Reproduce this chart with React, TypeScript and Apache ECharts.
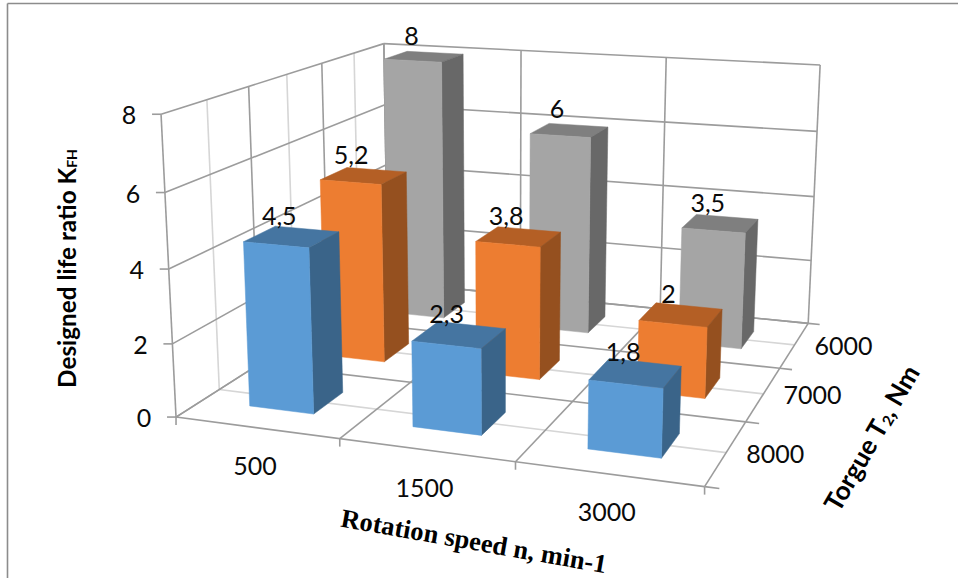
import React, { useEffect, useRef } from "react";
import * as echarts from "echarts";

// Chart data: designed life ratio by rotation speed (columns) and torque (rows).
const rotationSpeeds = ["500", "1500", "3000"];
const torques = ["8000", "7000", "6000"];
const valueTicks = [0, 2, 4, 6, 8];
const life8000 = [4.5, 2.3, 1.8];
const life7000 = [5.2, 3.8, 2];
const life6000 = [8, 6, 3.5];
const valueMax = 8;

type Vec3 = [number, number, number];
type Pt = [number, number];

// Known points of the unit box (u along speed, v into depth, w up) on the canvas.
const CALIBRATION: [Vec3, Pt][] = [
  [[0, 0, 0], [175.7, 416]],
  [[1, 0, 0], [705, 487]],
  [[1, 1, 0], [808, 323]],
  [[0, 1, 0], [388, 283]],
  [[0, 0, 1], [161, 115]],
  [[0, 1, 1], [384, 43]],
  [[1, 1, 1], [820, 65]],
];

function solveLinear(A: number[][], b: number[]): number[] {
  const n = b.length;
  const M = A.map((row, i) => [...row, b[i]]);
  for (let c = 0; c < n; c++) {
    let p = c;
    for (let r = c + 1; r < n; r++) if (Math.abs(M[r][c]) > Math.abs(M[p][c])) p = r;
    [M[c], M[p]] = [M[p], M[c]];
    for (let r = 0; r < n; r++) {
      if (r === c) continue;
      const f = M[r][c] / M[c][c];
      for (let k = c; k <= n; k++) M[r][k] -= f * M[c][k];
    }
  }
  return M.map((row, i) => row[n] / row[i]);
}

// Least-squares fit of a projective camera to the calibration points.
function fitCamera(): number[] {
  const rows: number[][] = [];
  const rhs: number[] = [];
  for (const [[u, v, w], [px, py]] of CALIBRATION) {
    const x = px / 1000;
    const y = py / 1000;
    rows.push([u, v, w, 1, 0, 0, 0, 0, -x * u, -x * v, -x * w]);
    rhs.push(x);
    rows.push([0, 0, 0, 0, u, v, w, 1, -y * u, -y * v, -y * w]);
    rhs.push(y);
  }
  const n = 11;
  const AtA = Array.from({ length: n }, (_, i) =>
    Array.from({ length: n }, (_, j) => rows.reduce((s, r) => s + r[i] * r[j], 0))
  );
  const Atb = Array.from({ length: n }, (_, i) =>
    rows.reduce((s, r, k) => s + r[i] * rhs[k], 0)
  );
  return solveLinear(AtA, Atb);
}

const cam = fitCamera();
const project = (u: number, v: number, w: number): Pt => {
  const d = cam[8] * u + cam[9] * v + cam[10] * w + 1;
  return [
    (1000 * (cam[0] * u + cam[1] * v + cam[2] * w + cam[3])) / d,
    (1000 * (cam[4] * u + cam[5] * v + cam[6] * w + cam[7])) / d,
  ];
};

const GRID_DARK = "#9c9c9c";
const GRID_LIGHT = "#d6d6d6";
const LABEL_FONT = "Lato";
const BAR_FRACTION_U = 0.4;
const BAR_FRACTION_V = 0.39;

const seg = (a: Pt, b: Pt, stroke: string, lineWidth = 1.6) => ({
  type: "line",
  shape: { x1: a[0], y1: a[1], x2: b[0], y2: b[1] },
  style: { stroke, lineWidth, fill: "none" },
});

const label = (text: string, p: Pt, fontSize = 25) => ({
  type: "text",
  x: p[0],
  y: p[1],
  style: {
    text,
    fontFamily: LABEL_FONT,
    fontSize,
    fill: "#0a0a0a",
    align: "center",
    verticalAlign: "middle",
  },
});

const shift = (p: Pt, dx: number, dy: number): Pt => [p[0] + dx, p[1] + dy];

// Walls, floor, ticks and axis labels of the box.
function renderFrame() {
  const children: any[] = [];
  const nU = rotationSpeeds.length;
  const nV = torques.length;

  // Half-cell lines sit underneath the lines on cell boundaries.
  for (let i = 0; i < nV; i++) {
    const v = (i + 0.5) / nV;
    children.push(seg(project(0, v, 0), project(0, v, 1), GRID_LIGHT));
    children.push(seg(project(0, v, 0), project(1, v, 0), GRID_LIGHT));
  }
  for (let i = 0; i <= nV; i++) {
    const v = i / nV;
    children.push(seg(project(0, v, 0), project(0, v, 1), GRID_DARK));
    children.push(seg(project(0, v, 0), project(1, v, 0), GRID_DARK));
    children.push(seg(project(1, v, 0), project(1.025, v, 0), GRID_DARK));
  }
  for (let i = 0; i <= nU; i++) {
    const u = i / nU;
    children.push(seg(project(u, 0, 0), project(u, 1, 0), GRID_DARK));
    children.push(seg(project(u, 1, 0), project(u, 1, 1), GRID_DARK));
    const foot = project(u, 0, 0);
    children.push(seg(foot, shift(foot, 0, 8), GRID_DARK));
  }
  for (const t of valueTicks) {
    const w = t / valueMax;
    const a = project(0, 0, w);
    children.push(seg(a, project(0, 1, w), GRID_DARK));
    children.push(seg(project(0, 1, w), project(1, 1, w), GRID_DARK));
    children.push(seg(a, shift(a, -9, 0), GRID_DARK));
    children.push(label(String(t), shift(a, -32, 0)));
  }
  rotationSpeeds.forEach((s, i) => {
    children.push(label(s, shift(project((i + 0.5) / nU, 0, 0), -1.5, 37)));
  });
  torques.forEach((s, i) => {
    children.push(label(s, shift(project(1, (i + 0.5) / nV, 0), 49, 0)));
  });
  return { type: "group", children };
}

const barBox = (i: number, row: number) => {
  const cu = 1 / rotationSpeeds.length;
  const cv = 1 / torques.length;
  const u0 = (i + (1 - BAR_FRACTION_U) / 2) * cu;
  const v0 = (row + (1 - BAR_FRACTION_V) / 2) * cv;
  return { u0, u1: u0 + BAR_FRACTION_U * cu, v0, v1: v0 + BAR_FRACTION_V * cv };
};

const face = (points: Pt[], fill: string) => ({
  type: "polygon",
  shape: { points },
  style: { fill, stroke: fill, lineWidth: 0.5 },
});

// One row of cuboids: front, right side and top faces.
const renderRow = (row: number, colors: { front: string; side: string; top: string }) =>
  (_params: any, api: any) => {
    const i = api.value(0);
    const w = api.value(1) / valueMax;
    const { u0, u1, v0, v1 } = barBox(i, row);
    return {
      type: "group",
      children: [
        face([project(u0, v1, w), project(u1, v1, w), project(u1, v0, w), project(u0, v0, w)], colors.top),
        face([project(u1, v0, 0), project(u1, v1, 0), project(u1, v1, w), project(u1, v0, w)], colors.side),
        face([project(u0, v0, 0), project(u1, v0, 0), project(u1, v0, w), project(u0, v0, w)], colors.front),
      ],
    };
  };

// Value labels float just above the centre of each cuboid's top.
const renderValueLabel = (_params: any, api: any) => {
  const i = api.value(0);
  const row = api.value(1);
  const value = api.value(2);
  const { u0, u1, v0, v1 } = barBox(i, row);
  const top = project((u0 + u1) / 2, (v0 + v1) / 2, value / valueMax);
  return label(String(value).replace(".", ","), shift(top, -12.5, -22));
};

const rowSeries = (name: string, row: number, values: number[], colors: any) => ({
  type: "custom",
  name,
  coordinateSystem: "none",
  silent: true,
  z: 3,
  data: values.map((v, i) => [i, v]),
  renderItem: renderRow(row, colors),
});

const BLUE = { front: "#5b9bd5", side: "#3a6489", top: "#4575a1" };
const ORANGE = { front: "#ed7d31", side: "#95501f", top: "#b45f25" };
const GRAY = { front: "#a5a5a5", side: "#686868", top: "#7f7f7f" };

const allValues = [life8000, life7000, life6000].flatMap((vals, row) =>
  vals.map((v, i) => [i, row, v])
);

const option: any = {
  animation: false,
  backgroundColor: "#fff",
  series: [
    {
      type: "custom",
      name: "frame",
      coordinateSystem: "none",
      silent: true,
      z: 1,
      data: [[0]],
      renderItem: renderFrame,
    },
    rowSeries("6000", 2, life6000, GRAY),
    rowSeries("7000", 1, life7000, ORANGE),
    rowSeries("8000", 0, life8000, BLUE),
    {
      type: "custom",
      name: "values",
      coordinateSystem: "none",
      silent: true,
      z: 5,
      data: allValues,
      renderItem: renderValueLabel,
    },
  ],
  graphic: [
    { type: "line", silent: true, shape: { x1: 7.5, y1: 3.5, x2: 958, y2: 3.5 }, style: { stroke: "#8c8c8c", lineWidth: 1.6 } },
    { type: "line", silent: true, shape: { x1: 7.5, y1: 3.5, x2: 7.5, y2: 578 }, style: { stroke: "#8c8c8c", lineWidth: 1.6 } },
    {
      type: "text",
      silent: true,
      x: 66,
      y: 268.5,
      rotation: Math.PI / 2,
      style: {
        text: "{b|Designed life ratio K}{s|FH}",
        align: "center",
        verticalAlign: "middle",
        rich: {
          b: { fontFamily: LABEL_FONT, fontWeight: "bold", fontSize: 24.3, fill: "#000" },
          s: { fontFamily: LABEL_FONT, fontWeight: "bold", fontSize: 14, fill: "#000", verticalAlign: "bottom" },
        },
      },
    },
    {
      type: "text",
      silent: true,
      x: 474,
      y: 541,
      rotation: (-10 * Math.PI) / 180,
      style: {
        text: "Rotation speed n, min-1",
        fontFamily: "Liberation Serif",
        fontWeight: "bold",
        fontSize: 26.5,
        fill: "#000",
        align: "center",
        verticalAlign: "middle",
      },
    },
    {
      type: "text",
      silent: true,
      x: 871,
      y: 438,
      rotation: (60 * Math.PI) / 180,
      style: {
        text: "{b|Torgue T}{s|2}{b|, Nm}",
        align: "center",
        verticalAlign: "middle",
        rich: {
          b: { fontFamily: LABEL_FONT, fontWeight: "bold", fontSize: 26, fill: "#000" },
          s: { fontFamily: LABEL_FONT, fontWeight: "bold", fontSize: 15, fill: "#000", verticalAlign: "bottom" },
        },
      },
    },
  ],
};

export default function App() {
  const ref = useRef<HTMLDivElement>(null);
  useEffect(() => {
    const chart = echarts.init(ref.current!, undefined, { renderer: "svg" });
    chart.setOption(option);
    return () => chart.dispose();
  }, []);
  return <div ref={ref} style={{ position: "absolute", left: 0, top: 0, width: 958, height: 578 }} />;
}
